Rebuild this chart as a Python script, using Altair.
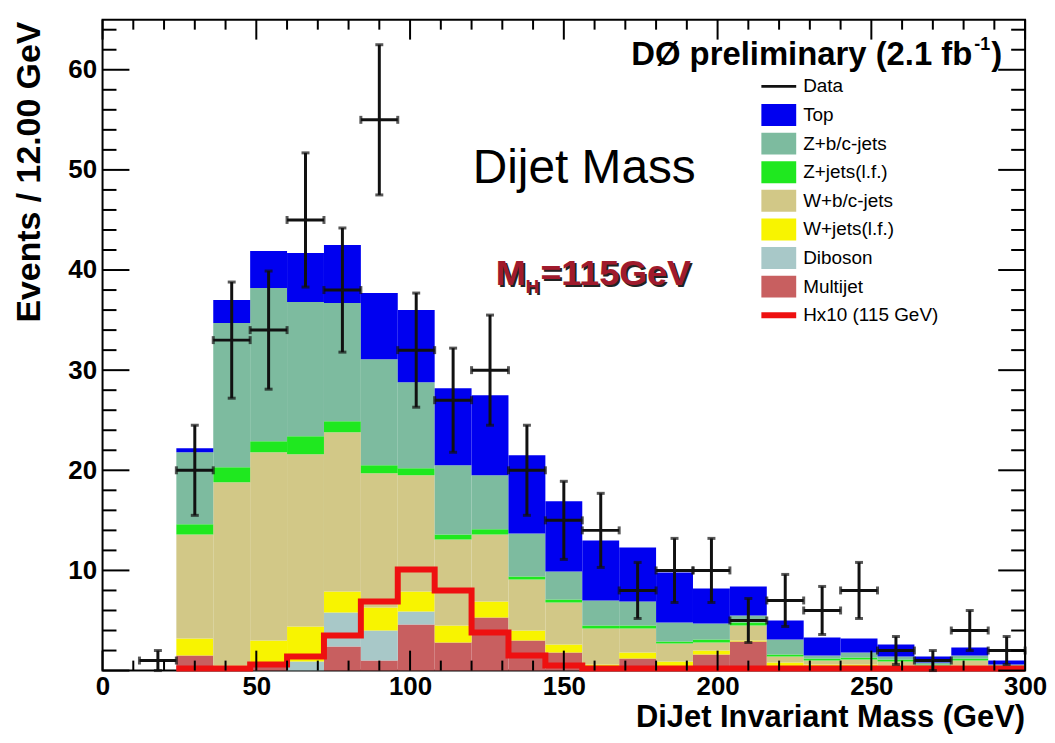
import altair as alt
import pandas as pd

FONT = "Liberation Sans"

# ---------------- data ----------------
bin_lo = [24, 36, 48, 60, 72, 84, 96, 108, 120, 132, 144, 156,
          168, 180, 192, 204, 216, 228, 240, 252, 264, 276, 288]
bin_width = 12

comp_names = ["Multijet", "Diboson", "W+jets(l.f.)", "W+b/c-jets",
              "Z+jets(l.f.)", "Z+b/c-jets", "Top"]
comp_colors = ["#c85f60", "#a8c8c8", "#f8f400", "#d2c887",
               "#1fe81f", "#7dbb9f", "#0000f0"]

multijet = [1.5, 0.2, 0.4, 0.0, 2.4, 1.0, 4.6, 2.8, 5.3, 3.0, 1.8, 0.3,
            1.2, 0.4, 1.6, 2.9, 0.3, 0.2, 0.2, 0.2, 0.1, 0.2, 0.1]
diboson = [0.0, 0.0, 0.0, 0.9, 3.4, 3.0, 1.3, 0.0, 0.0, 0.0, 0.0, 0.0,
           0.0, 0.0, 0.0, 0.0, 0.0, 0.0, 0.0, 0.0, 0.0, 0.0, 0.0]
wjets_lf = [1.7, 0.3, 2.6, 3.5, 2.1, 2.3, 2.0, 1.7, 1.6, 1.0, 0.8, 0.3,
            0.6, 0.5, 0.4, 0.1, 0.5, 0.4, 0.4, 0.3, 0.2, 0.3, 0.1]
wbc_jets = [10.4, 18.3, 18.8, 17.2, 15.9, 13.4, 11.6, 8.6, 6.7, 5.1, 4.2, 3.6,
            2.4, 1.8, 0.8, 1.5, 0.6, 0.4, 0.5, 0.4, 0.2, 0.5, 0.2]
zjets_lf = [1.0, 1.5, 1.1, 1.8, 1.1, 0.8, 0.7, 0.5, 0.5, 0.3, 0.3, 0.3,
            0.3, 0.2, 0.3, 0.3, 0.2, 0.2, 0.2, 0.2, 0.1, 0.2, 0.1]
zbc_jets = [7.2, 14.4, 15.3, 13.4, 11.8, 10.6, 8.6, 6.9, 5.4, 4.3, 2.8, 2.5,
            2.4, 1.9, 1.6, 0.7, 1.5, 0.3, 0.5, 0.3, 0.2, 0.3, 0.1]
top = [0.4, 2.3, 3.7, 4.9, 5.8, 6.6, 7.2, 7.7, 8.0, 7.8, 7.0, 6.0,
       5.4, 5.0, 3.5, 2.9, 1.9, 1.8, 1.4, 1.2, 0.6, 0.8, 0.4]

signal_hx10 = [0.2, 0.2, 0.6, 1.4, 3.5, 6.9, 10.1, 8.0, 3.8, 1.5, 0.5, 0.2,
               0.2, 0.2, 0.2, 0.2, 0.2, 0.2, 0.2, 0.2, 0.2, 0.2, 0.2]

data_x = [18, 30, 42, 54, 66, 78, 90, 102, 114, 126, 138, 150,
          162, 174, 186, 198, 210, 222, 234, 246, 258, 270, 282, 294]
data_y = [1, 20, 33, 34, 45, 38, 55, 32, 27, 30, 20, 15,
          14, 8, 10, 10, 5, 7, 6, 8, 2, 1, 4, 2]
data_err = [1.0, 4.5, 5.8, 5.9, 6.7, 6.2, 7.5, 5.7, 5.2, 5.5, 4.5, 3.9,
            3.7, 2.8, 3.2, 3.2, 2.2, 2.6, 2.4, 2.8, 1.4, 1.0, 2.0, 1.4]

x_major = [0, 50, 100, 150, 200, 250, 300]
x_minor = [10, 20, 30, 40, 60, 70, 80, 90, 110, 120, 130, 140, 160, 170, 180,
           190, 210, 220, 230, 240, 260, 270, 280, 290]
y_major = [0, 10, 20, 30, 40, 50, 60]
y_labels = [10, 20, 30, 40, 50, 60]
y_minor = [2, 4, 6, 8, 12, 14, 16, 18, 22, 24, 26, 28, 32, 34, 36, 38,
           42, 44, 46, 48, 52, 54, 56, 58, 62, 64]

legend_labels = ["Data", "Top", "Z+b/c-jets", "Z+jets(l.f.)", "W+b/c-jets",
                 "W+jets(l.f.)", "Diboson", "Multijet", "Hx10 (115 GeV)"]

# ---------------- build tables ----------------
W, H = 927, 654
xs = alt.Scale(domain=[0, 300], nice=False, zero=False)
ys = alt.Scale(domain=[0, 65], nice=False)
x_axis = alt.Axis(values=x_major, title=None, ticks=False, domain=False, grid=False,
                  labelFont=FONT, labelFontWeight="bold", labelFontSize=26,
                  labelColor="black", labelPadding=3, labelFlush=False)
y_axis = alt.Axis(values=y_labels, title=None, ticks=False, domain=False, grid=False,
                  labelFont=FONT, labelFontWeight="bold", labelFontSize=26,
                  labelColor="black", labelPadding=6)

rows = []
comp_vals = [multijet, diboson, wjets_lf, wbc_jets, zjets_lf, zbc_jets, top]
for order, (name, vals) in enumerate(zip(comp_names, comp_vals)):
    for lo, v in zip(bin_lo, vals):
        rows.append({"lo": lo, "hi": lo + bin_width, "comp": name, "ord": order, "value": v})
stack_df = pd.DataFrame(rows)

color_enc = alt.Color("comp:N", scale=alt.Scale(domain=comp_names, range=comp_colors), legend=None)

stack = alt.Chart(stack_df).transform_stack(
    stack="value", as_=["y0", "y1"], groupby=["lo"],
    sort=[alt.SortField("ord", order="ascending")]
).mark_rect(strokeWidth=0).encode(
    x=alt.X("lo:Q", scale=xs, axis=x_axis),
    x2="hi:Q",
    y=alt.Y("y0:Q", scale=ys, axis=y_axis),
    y2="y1:Q",
    color=color_enc,
)

sig_df = pd.DataFrame({"x": bin_lo + [bin_lo[-1] + bin_width],
                       "y": signal_hx10 + [signal_hx10[-1]]})
signal = alt.Chart(sig_df).mark_line(interpolate="step-after", color="#ee1010",
                                     strokeWidth=6, strokeJoin="miter").encode(
    x=alt.X("x:Q", scale=xs, axis=x_axis),
    y=alt.Y("y:Q", scale=ys, axis=y_axis),
)

ddf = pd.DataFrame({"x": data_x, "y": data_y, "e": data_err})
ddf["lo"] = ddf["x"] - bin_width / 2
ddf["hi"] = ddf["x"] + bin_width / 2
ddf["ylo"] = (ddf["y"] - ddf["e"]).clip(lower=0)
ddf["yhi"] = ddf["y"] + ddf["e"]

dcol = "#111111"
vbar = alt.Chart(ddf).mark_rule(color=dcol, strokeWidth=3).encode(
    x=alt.X("x:Q", scale=xs, axis=x_axis), y=alt.Y("ylo:Q", scale=ys, axis=y_axis), y2="yhi:Q")
hbar = alt.Chart(ddf).mark_rule(color=dcol, strokeWidth=3).encode(
    x=alt.X("lo:Q", scale=xs, axis=x_axis), x2="hi:Q", y=alt.Y("y:Q", scale=ys, axis=y_axis))
cap_top = alt.Chart(ddf).mark_tick(orient="horizontal", size=8, thickness=3, color=dcol).encode(
    x=alt.X("x:Q", scale=xs, axis=x_axis), y=alt.Y("yhi:Q", scale=ys, axis=y_axis))
cap_bot = alt.Chart(ddf).mark_tick(orient="horizontal", size=8, thickness=3, color=dcol).encode(
    x=alt.X("x:Q", scale=xs, axis=x_axis), y=alt.Y("ylo:Q", scale=ys, axis=y_axis))
cap_l = alt.Chart(ddf).mark_tick(orient="vertical", size=8, thickness=3, color=dcol).encode(
    x=alt.X("lo:Q", scale=xs, axis=x_axis), y=alt.Y("y:Q", scale=ys, axis=y_axis))
cap_r = alt.Chart(ddf).mark_tick(orient="vertical", size=8, thickness=3, color=dcol).encode(
    x=alt.X("hi:Q", scale=xs, axis=x_axis), y=alt.Y("y:Q", scale=ys, axis=y_axis))

# ---------------- inward frame ticks (ROOT style) ----------------
def yticks(vals, length):
    df = pd.DataFrame({"v": vals})
    left = alt.Chart(df).mark_rule(color="black", strokeWidth=2).encode(
        y=alt.Y("v:Q", scale=ys, axis=y_axis), x=alt.value(0), x2=alt.value(length))
    right = alt.Chart(df).mark_rule(color="black", strokeWidth=2).encode(
        y=alt.Y("v:Q", scale=ys, axis=y_axis), x=alt.value(W - length), x2=alt.value(W))
    return [left, right]

def xticks(vals, length):
    df = pd.DataFrame({"v": vals})
    bottom = alt.Chart(df).mark_rule(color="black", strokeWidth=2).encode(
        x=alt.X("v:Q", scale=xs, axis=x_axis), y=alt.value(H - length), y2=alt.value(H))
    topt = alt.Chart(df).mark_rule(color="black", strokeWidth=2).encode(
        x=alt.X("v:Q", scale=xs, axis=x_axis), y=alt.value(0), y2=alt.value(length))
    return [bottom, topt]

tick_layers = yticks(y_major, 27) + yticks(y_minor, 14) + xticks(x_major, 20) + xticks(x_minor, 10)

# ---------------- texts ----------------
def text(s, x, y, size, weight="normal", align="left", baseline="alphabetic",
         color="black", angle=0):
    kw = dict(font=FONT, fontSize=size, fontWeight=weight, align=align,
              baseline=baseline, color=color)
    if angle:
        kw["angle"] = angle
    return alt.Chart(pd.DataFrame({"t": [s]})).mark_text(**kw).encode(
        text="t:N", x=alt.value(x), y=alt.value(y))

texts = [
    text("Events / 12.00 GeV", -73, 2, 34, "bold", align="right", baseline="middle", angle=270),
    text("DiJet Invariant Mass (GeV)", W, 711, 31, "bold", align="right"),
    text("DØ preliminary (2.1 fb", 874, 46, 33, "bold", align="right"),
    text("-1", 876, 30, 18, "bold"),
    text(")", 904, 46, 33, "bold", align="right"),
    text("Dijet Mass", 372, 164, 48),
    # M_H label with shadow
    text("M", 397, 269, 36, "bold", color="#222222"),
    text("H", 427, 277, 19, "bold", color="#222222"),
    text("=115GeV", 442, 269, 36, "bold", color="#222222"),
    text("M", 395, 267, 36, "bold", color="#a01a2c"),
    text("H", 425, 275, 19, "bold", color="#a01a2c"),
    text("=115GeV", 440, 267, 36, "bold", color="#a01a2c"),
]

# ---------------- legend ----------------
legend_layers = []
row0, step = 67, 28.75
for k, lab in enumerate(legend_labels):
    py = row0 + step * k
    one = pd.DataFrame({"t": [lab]})
    if lab == "Data":
        legend_layers.append(alt.Chart(one).mark_rule(color=dcol, strokeWidth=3).encode(
            x=alt.value(662), x2=alt.value(697), y=alt.value(py)))
    elif lab.startswith("Hx10"):
        legend_layers.append(alt.Chart(one).mark_rule(color="#ee1010", strokeWidth=6).encode(
            x=alt.value(662), x2=alt.value(697), y=alt.value(py)))
    else:
        col = comp_colors[comp_names.index(lab)]
        legend_layers.append(alt.Chart(one).mark_rect(color=col).encode(
            x=alt.value(662), x2=alt.value(697), y=alt.value(py - 11), y2=alt.value(py + 11)))
    legend_layers.append(text(lab, 704, py, 19, baseline="middle"))

chart = alt.layer(
    stack, signal, vbar, hbar, cap_top, cap_bot, cap_l, cap_r,
    *tick_layers, *legend_layers, *texts
).properties(
    width=W, height=H,
    padding={"left": 95, "top": 10, "right": 22, "bottom": 63},
    autosize=alt.AutoSizeParams(type="none"),
    background="white",
).configure_view(stroke="black", strokeWidth=2)

chart.save("out.html", embed_options={"renderer": "svg", "actions": False})
